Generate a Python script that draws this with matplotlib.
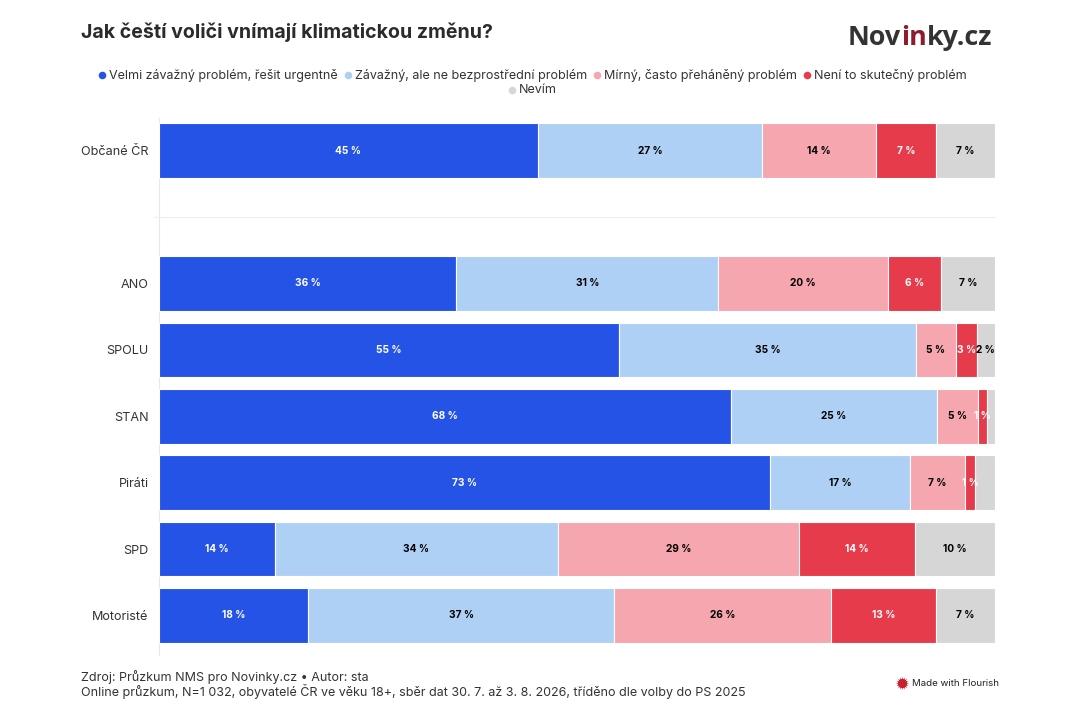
import matplotlib.pyplot as plt

plt.rcParams["font.family"] = ["Inter", "DejaVu Sans"]

title = "Jak čeští voliči vnímají klimatickou změnu?"
groups = ["Občané ČR", "", "ANO", "SPOLU", "STAN", "Piráti", "SPD", "Motoristé"]
series_names = [
    "Velmi závažný problém, řešit urgentně",
    "Závažný, ale ne bezprostřední problém",
    "Mírný, často přeháněný problém",
    "Není to skutečný problém",
    "Nevím",
]
colors = ["#2453e6", "#afd0f5", "#f5a6ae", "#e63b4b", "#d6d6d6"]
label_colors = ["white", "black", "black", "white", "black"]

velmi = [45.4, 0, 35.6, 55.1, 68.4, 73.1, 13.9, 17.9]
zavazny = [26.7, 0, 31.3, 35.4, 24.7, 16.7, 33.8, 36.6]
mirny = [13.7, 0, 20.3, 4.8, 4.9, 6.6, 28.9, 25.9]
neni = [7.1, 0, 6.3, 2.5, 1.1, 1.2, 13.8, 12.5]
nevim = [7.1, 0, 6.5, 2.2, 0.9, 2.4, 9.6, 7.1]
values = [velmi, zavazny, mirny, neni, nevim]

# texts printed in the bars, None = no label
velmi_labels = ["45 %", None, "36 %", "55 %", "68 %", "73 %", "14 %", "18 %"]
zavazny_labels = ["27 %", None, "31 %", "35 %", "25 %", "17 %", "34 %", "37 %"]
mirny_labels = ["14 %", None, "20 %", "5 %", "5 %", "7 %", "29 %", "26 %"]
neni_labels = ["7 %", None, "6 %", "3 %", "1 %", "1 %", "14 %", "13 %"]
nevim_labels = ["7 %", None, "7 %", "2 %", None, None, "10 %", "7 %"]
labels = [velmi_labels, zavazny_labels, mirny_labels, neni_labels, nevim_labels]

source_lines = [
    "Zdroj: Průzkum NMS pro Novinky.cz • Autor: sta",
    "Online průzkum, N=1 032, obyvatelé ČR ve věku 18+, sběr dat 30. 7. až 3. 8. 2026, tříděno dle volby do PS 2025",
]

W, H = 1080, 720
TEXT = "#333333"


def px_axes(fig, left, top, right, bottom):
    return fig.add_axes([left / W, 1 - bottom / H, (right - left) / W, (bottom - top) / H])


def draw_bars(ax):
    # one row = 66.4 px, first row centred on y=150.7
    ax.set_xlim(0, 100)
    ax.set_ylim((655 - 150.7) / 66.4, (118 - 150.7) / 66.4)
    lefts = [0] * len(groups)
    for vals, labs, color, lab_color in zip(values, labels, colors, label_colors):
        # the empty row has zero values, skip it or its white edge cuts the axis line
        rows = [i for i in range(len(groups)) if vals[i] > 0]
        ax.barh(rows, [vals[i] for i in rows], left=[lefts[i] for i in rows], height=0.82,
                color=color, edgecolor="white", linewidth=0.8, zorder=3)
        for i, lab in enumerate(labs):
            if lab is not None:
                ax.text(lefts[i] + vals[i] / 2, i, lab, ha="center", va="center",
                        color=lab_color, fontsize=7.3, fontweight="bold", zorder=4)
        lefts = [a + b for a, b in zip(lefts, vals)]
    ax.set_yticks(range(len(groups)))
    ax.set_yticklabels(groups, fontsize=9.1, color=TEXT)
    ax.set_xticks([])
    ax.tick_params(axis="y", length=0, pad=7.2)
    for side in ["top", "right", "bottom"]:
        ax.spines[side].set_visible(False)
    ax.spines["left"].set_color("#e8e8e8")
    ax.spines["left"].set_linewidth(0.8)


def draw_legend(ov, renderer):
    # same layout as flourish: centred rows, last entry wraps to second row
    rows = [(series_names[:4], colors[:4], 75), (series_names[4:], colors[4:], 90)]
    for names, cols, y in rows:
        widths = []
        for name in names:
            t = ov.text(0, y, name, fontsize=9.03)
            widths.append(t.get_window_extent(renderer).width)
            t.remove()
        total = sum(widths) + len(names) * 11 + (len(names) - 1) * 6
        x = 533 - total / 2
        for name, col, w in zip(names, cols, widths):
            ov.scatter([x + 3.5], [y], s=30, color=col, linewidths=0, zorder=5)
            ov.text(x + 10.5, y, name, fontsize=9.03, color=TEXT, va="center", ha="left")
            x += w + 17


def draw_logo(ov, renderer):
    x = 848
    for part, col in [("Nov", "#333333"), ("in", "#8e1c2e"), ("ky.cz", "#333333")]:
        t = ov.text(x, 38, part, fontsize=19.4, fontweight="bold", color=col,
                    family=["Open Sans", "DejaVu Sans"], va="center", ha="left")
        x += t.get_window_extent(renderer).width


def main():
    fig = plt.figure(figsize=(W / 100, H / 100), dpi=100, facecolor="white")
    ax = px_axes(fig, 158.5, 118, 995, 655)
    draw_bars(ax)

    ov = px_axes(fig, 0, 0, W, H)
    ov.set_xlim(0, W)
    ov.set_ylim(H, 0)
    ov.axis("off")
    ov.patch.set_alpha(0)
    renderer = fig.canvas.get_renderer()

    ov.plot([154, 995], [217, 217], color="#eeeeee", linewidth=0.8)

    ov.text(81, 32.5, title, fontsize=14.1, fontweight="bold", color="#2b2b2b", va="center", ha="left")
    draw_logo(ov, renderer)
    draw_legend(ov, renderer)

    ov.text(81, 676.5, source_lines[0], fontsize=9.03, color=TEXT, va="center", ha="left")
    ov.text(81, 691.5, source_lines[1], fontsize=9.03, color=TEXT, va="center", ha="left")

    # flourish badge
    ov.scatter([901.5], [683], s=95, marker=(16, 1, 0), color="#d9232e", linewidths=0)
    ov.scatter([901.5], [683], s=45, marker="o", color="#c8202c", linewidths=0)
    ov.text(912, 683, "Made with Flourish", fontsize=6.96, color="#222222", va="center", ha="left")

    fig.savefig("out.png", dpi=100)


if __name__ == "__main__":
    main()
